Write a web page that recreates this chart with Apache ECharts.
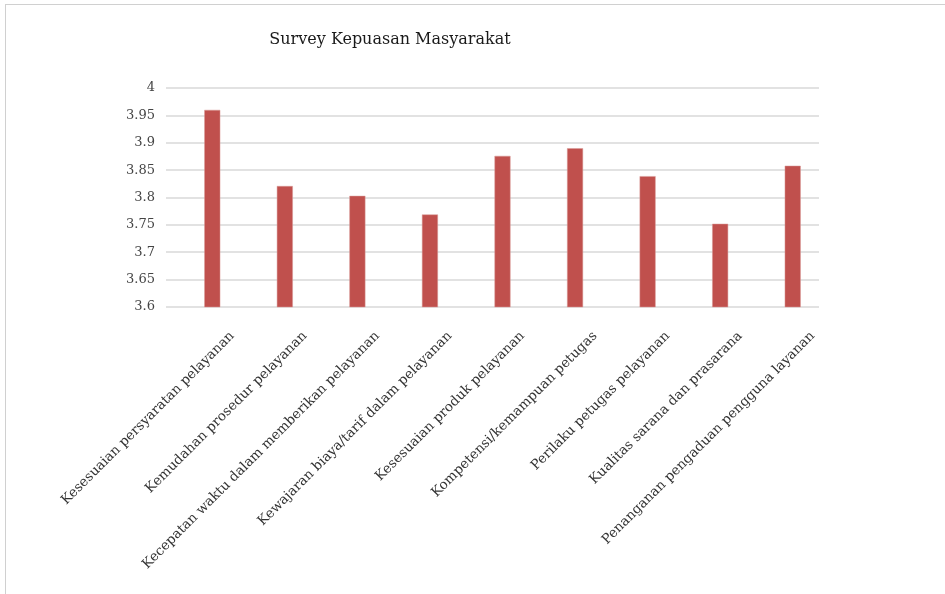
<!DOCTYPE html>
<html><head><meta charset="utf-8">
<script src="https://cdn.jsdelivr.net/npm/echarts@6/dist/echarts.min.js"></script>
<style>
html,body{margin:0;padding:0;background:#fff;}
#frame{position:absolute;left:5px;top:4px;width:940px;height:590px;border-top:1px solid #d0d0d0;border-left:1px solid #d0d0d0;}
#c{position:absolute;left:0;top:0;width:945px;height:594px;}
</style></head>
<body><div id="frame"></div><div id="c"></div>
<script>
const title = "Survey Kepuasan Masyarakat";
const categories = [
  "Kesesuaian persyaratan pelayanan",
  "Kemudahan prosedur pelayanan",
  "Kecepatan waktu dalam memberikan pelayanan",
  "Kewajaran biaya/tarif dalam pelayanan",
  "Kesesuaian produk pelayanan",
  "Kompetensi/kemampuan petugas",
  "Perilaku petugas pelayanan",
  "Kualitas sarana dan prasarana",
  "Penanganan pengaduan pengguna layanan"
];
const values = [3.960, 3.821, 3.803, 3.769, 3.876, 3.890, 3.839, 3.752, 3.858];
const yMin = 3.6, yMax = 4, yStep = 0.05;

const chart = echarts.init(document.getElementById('c'), null, {renderer:'canvas'});
const serif = "'DejaVu Serif', 'Liberation Serif', serif";
chart.setOption({
  animation:false,
  backgroundColor:'transparent',
  title:{text:title,left:385,top:27,textAlign:'center',
    textStyle:{fontFamily:serif,fontSize:16,fontWeight:'normal',color:'#1a1a1a'}},
  grid:[
    {left:166,top:88,width:653,height:219},
    {left:176,top:88,width:653,height:219},
    {left:196,top:88,width:653,height:219}
  ],
  xAxis:[
    {gridIndex:0,type:'category',data:categories,show:false},
    {gridIndex:1,type:'category',data:categories,show:false},
    {gridIndex:2,type:'category',data:categories,
      axisLine:{show:false},axisTick:{show:false},
      axisLabel:{rotate:45,interval:0,margin:27,fontFamily:serif,fontSize:13.5,color:'#333'}}
  ],
  yAxis:[
    {gridIndex:0,type:'value',min:yMin,max:yMax,interval:yStep,
      axisLine:{show:false},axisTick:{show:false},
      splitLine:{lineStyle:{color:'#d9d9d9',width:1.5}},
      axisLabel:{margin:11,fontFamily:serif,fontSize:13,color:'#444',
        formatter:v=>String(+v.toFixed(2))}},
    {gridIndex:1,type:'value',min:yMin,max:yMax,show:false,splitLine:{show:false}},
    {gridIndex:2,type:'value',min:yMin,max:yMax,show:false,splitLine:{show:false}}
  ],
  series:[{
    type:'bar',xAxisIndex:1,yAxisIndex:1,data:values,barWidth:16,
    itemStyle:{color:'#c0504d',borderColor:'#d99a98',borderWidth:0.5}
  }]
});
</script></body></html>
